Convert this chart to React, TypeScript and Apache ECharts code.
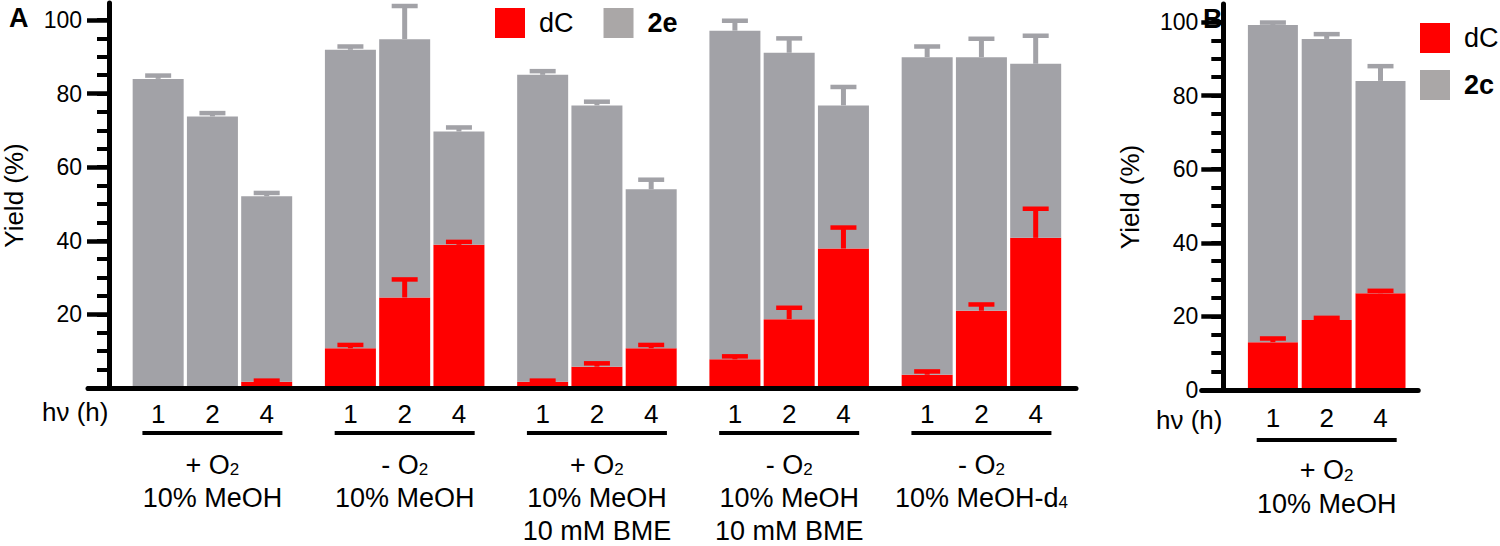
import React, { useEffect, useRef } from 'react';
import * as echarts from 'echarts';

// ---------- data ----------
const hours = ['1', '2', '4'];

// Panel A: condition groups
const groupsA = ['g1', 'g2', 'g3', 'g4', 'g5'];
const oxygenA = ['+ O', '- O', '+ O', '- O', '- O'];
const solventA = ['10% MeOH', '10% MeOH', '10% MeOH', '10% MeOH', '10% MeOH-d'];
const solventSubA = ['', '', '', '', '4'];
const additiveA = ['', '', '10 mM BME', '10 mM BME', ''];

// dC yield (%) per irradiation time, across groups
const dcA_1h = [0, 10.8, 1.7, 7.8, 3.6];
const dcA_2h = [0, 24.6, 5.8, 18.7, 21.0];
const dcA_4h = [1.7, 38.9, 10.8, 37.9, 40.8];
// 2e yield (%) (stacked on dC)
const e2A_1h = [84.0, 81.1, 83.4, 89.3, 86.3];
const e2A_2h = [73.8, 70.2, 71.0, 72.4, 68.9];
const e2A_4h = [50.4, 30.8, 43.2, 38.9, 47.3];
// error bars (upper)
const dcErrA_1h = [0, 0.9, 0.3, 0.8, 0.9];
const dcErrA_2h = [0, 4.9, 0.9, 3.1, 1.7];
const dcErrA_4h = [0.3, 0.8, 0.9, 5.7, 7.9];
const e2ErrA_1h = [0.9, 0.9, 1.0, 2.7, 2.9];
const e2ErrA_2h = [0.9, 9.0, 1.0, 3.9, 5.0];
const e2ErrA_4h = [0.9, 1.1, 2.6, 5.0, 7.6];

// Panel B (single group), values per irradiation time 1, 2, 4 h
const groupsB = ['g1'];
const oxygenB = ['+ O'];
const solventB = ['10% MeOH'];
const dcB = [13.0, 19.0, 26.3];
const c2B = [86.2, 76.4, 57.7];
const dcErrB = [1.0, 0.6, 0.65];
const c2ErrB = [0.65, 1.3, 4.0];

// axis ticks
const yMajorTicks = [0, 20, 40, 60, 80, 100];
const yLabelsA = [20, 40, 60, 80, 100];
const yLabelsB = [0, 20, 40, 60, 80, 100];
const yMinorTicks = [0, 5, 10, 15, 20, 25, 30, 35, 40, 45, 50, 55, 60, 65, 70, 75, 80, 85, 90, 95, 100];

// ---------- styles ----------
const FONT = "'Liberation Sans', Arial, Helvetica, sans-serif";
const RED = '#ff0000';
const GRAY = '#a2a2a7';
const LEGEND_GRAY = '#aaa7a7';
const STEM = 5;
const CAP_W = 26;
const CAP_T = 4.5;

const BAR_W_A = 51;
const BAR_GAP_A = 0.064;
const PITCH_A = BAR_W_A * (1 + BAR_GAP_A);
const BAR_W_B = 50;
const BAR_GAP_B = 0.076;
const PITCH_B = BAR_W_B * (1 + BAR_GAP_B);

const MAX_A = 385 / 3.68;
const MAX_B = 386 / 3.68;

const buildLabel = (oxy: string, solvent: string, solSub: string, additive: string) => {
  let s = hours.map((h) => `{n|${h}}`).join('') + '\n{ul|}\n{sp|}\n';
  s += `{g|${oxy}}{sub|2}\n{g|${solvent}}`;
  if (solSub) s += `{sub|${solSub}}`;
  if (additive) s += `\n{g|${additive}}`;
  return s;
};

const richFor = (pitch: number, ulLH: number, spLH: number, gLH: number) => ({
  n: { width: pitch, align: 'center', fontSize: 26, lineHeight: 30, color: '#000', fontFamily: FONT },
  ul: { width: 140, height: 4, lineHeight: ulLH, backgroundColor: '#000' },
  sp: { lineHeight: spLH, height: spLH, fontSize: 10 },
  g: { fontSize: 27, lineHeight: gLH, color: '#000', fontFamily: FONT },
  sub: { fontSize: 17, lineHeight: gLH, padding: [10, 0, 0, 0], color: '#000', fontFamily: FONT },
});

const makeErrRender = (pitch: number, color: string) => (_params: any, api: any) => {
  const g = api.value(0);
  const top = api.value(1);
  const err = api.value(2);
  const h = api.value(3);
  if (!(err > 0)) return null;
  const p0 = api.coord([g, top]);
  const p1 = api.coord([g, top + err]);
  const cx = p0[0] + (h - 1) * pitch;
  return {
    type: 'group',
    children: [
      { type: 'rect', shape: { x: cx - STEM / 2, y: p1[1], width: STEM, height: p0[1] - p1[1] }, style: { fill: color } },
      { type: 'rect', shape: { x: cx - CAP_W / 2, y: p1[1] - CAP_T / 2, width: CAP_W, height: CAP_T }, style: { fill: color } },
    ],
  };
};

const yAxisPair = (gridIndex: number, max: number, offset: number, labels: number[], margin: number, nameGap: number) => [
  {
    gridIndex, type: 'value', position: 'left', offset, min: 0, max,
    axisLine: { show: true, lineStyle: { color: '#000', width: 5 } },
    axisTick: { show: true, length: 12, lineStyle: { color: '#000', width: 4 }, customValues: yMinorTicks },
    axisLabel: { show: false },
    splitLine: { show: false },
    name: 'Yield (%)', nameLocation: 'middle', nameGap, nameRotate: 90, nameMoveOverlap: false,
    nameTextStyle: { fontSize: 26, color: '#000', fontFamily: FONT },
  },
  {
    gridIndex, type: 'value', position: 'left', offset, min: 0, max,
    axisLine: { show: false },
    axisTick: { show: true, length: 22, lineStyle: { color: '#000', width: 4.5 }, customValues: yMajorTicks },
    axisLabel: { show: true, customValues: labels, margin, fontSize: 23, color: '#000', fontFamily: FONT },
    splitLine: { show: false },
  },
];

const lineXAxis = (gridIndex: number) => ({
  gridIndex, type: 'value', min: 0, max: 1, position: 'bottom', z: 10,
  axisLine: { show: true, onZero: false, lineStyle: { color: '#000', width: 5 } },
  axisTick: { show: false }, axisLabel: { show: false }, splitLine: { show: false },
});

const textEl = (x: number, y: number, text: string, size: number, bold: boolean, vAlign: string) => ({
  type: 'text', x, y, z: 20,
  style: {
    text, fontSize: size, fontWeight: bold ? 'bold' : 'normal', fontFamily: FONT,
    fill: '#000', align: 'left', verticalAlign: vAlign,
  },
});

export default function App() {
  const ref = useRef<HTMLDivElement>(null);

  useEffect(() => {
    if (!ref.current) return;
    const chart = echarts.init(ref.current, undefined, { renderer: 'svg' });

    const dcA = [dcA_1h, dcA_2h, dcA_4h];
    const e2A = [e2A_1h, e2A_2h, e2A_4h];
    const dcErrA = [dcErrA_1h, dcErrA_2h, dcErrA_4h];
    const e2ErrA = [e2ErrA_1h, e2ErrA_2h, e2ErrA_4h];

    const series: any[] = [];
    hours.forEach((_h, hi) => {
      series.push({
        type: 'bar', name: 'dC', xAxisIndex: 0, yAxisIndex: 0, stack: 'A' + hi,
        data: dcA[hi], barWidth: BAR_W_A, barGap: `${BAR_GAP_A * 100}%`, itemStyle: { color: RED },
      });
      series.push({
        type: 'bar', name: '2e', xAxisIndex: 0, yAxisIndex: 0, stack: 'A' + hi,
        data: e2A[hi], barWidth: BAR_W_A, barGap: `${BAR_GAP_A * 100}%`, itemStyle: { color: GRAY },
      });
    });
    hours.forEach((_h, hi) => {
      series.push({
        type: 'bar', name: 'dC', xAxisIndex: 2, yAxisIndex: 3, stack: 'B' + hi,
        data: [dcB[hi]], barWidth: BAR_W_B, barGap: `${BAR_GAP_B * 100}%`, itemStyle: { color: RED },
      });
      series.push({
        type: 'bar', name: '2c', xAxisIndex: 2, yAxisIndex: 3, stack: 'B' + hi,
        data: [c2B[hi]], barWidth: BAR_W_B, barGap: `${BAR_GAP_B * 100}%`, itemStyle: { color: GRAY },
      });
    });

    const errRedA: number[][] = [];
    const errGrayA: number[][] = [];
    groupsA.forEach((_g, gi) => {
      hours.forEach((_h, hi) => {
        errRedA.push([gi, dcA[hi][gi], dcErrA[hi][gi], hi]);
        errGrayA.push([gi, dcA[hi][gi] + e2A[hi][gi], e2ErrA[hi][gi], hi]);
      });
    });
    const errRedB = hours.map((_h, hi) => [0, dcB[hi], dcErrB[hi], hi]);
    const errGrayB = hours.map((_h, hi) => [0, dcB[hi] + c2B[hi], c2ErrB[hi], hi]);

    series.push(
      { type: 'custom', name: 'errGrayA', xAxisIndex: 0, yAxisIndex: 0, z: 5, silent: true, encode: { x: 0, y: 1 }, data: errGrayA, renderItem: makeErrRender(PITCH_A, GRAY) },
      { type: 'custom', name: 'errRedA', xAxisIndex: 0, yAxisIndex: 0, z: 5, silent: true, encode: { x: 0, y: 1 }, data: errRedA, renderItem: makeErrRender(PITCH_A, RED) },
      { type: 'custom', name: 'errGrayB', xAxisIndex: 2, yAxisIndex: 3, z: 5, silent: true, encode: { x: 0, y: 1 }, data: errGrayB, renderItem: makeErrRender(PITCH_B, GRAY) },
      { type: 'custom', name: 'errRedB', xAxisIndex: 2, yAxisIndex: 3, z: 5, silent: true, encode: { x: 0, y: 1 }, data: errRedB, renderItem: makeErrRender(PITCH_B, RED) },
    );

    const legendCommon = {
      itemWidth: 30, itemHeight: 30, icon: 'rect', padding: 0, selectedMode: false,
      textStyle: { fontSize: 27, color: '#000', fontFamily: FONT, padding: [0, 0, 0, 9] },
    };

    const option: any = {
      animation: false,
      backgroundColor: '#fff',
      textStyle: { fontFamily: FONT },
      grid: [
        { left: 116.3, top: 3, width: 961.25, height: 385, outerBoundsMode: 'none', containLabel: false },
        { left: 88, top: 3, width: 988, height: 385, outerBoundsMode: 'none', containLabel: false },
        { left: 1230.7, top: 4, width: 192, height: 386, outerBoundsMode: 'none', containLabel: false },
        { left: 1201.7, top: 4, width: 216.5, height: 386, outerBoundsMode: 'none', containLabel: false },
      ],
      legend: [
        {
          ...legendCommon, left: 495, top: 8, orient: 'horizontal', itemGap: 30,
          data: [{ name: 'dC' }, { name: '2e', textStyle: { fontWeight: 'bold' }, itemStyle: { color: LEGEND_GRAY } }],
        },
        {
          ...legendCommon, left: 1420, top: 23, orient: 'vertical', itemGap: 17,
          data: [{ name: 'dC' }, { name: '2c', textStyle: { fontWeight: 'bold' }, itemStyle: { color: LEGEND_GRAY } }],
        },
      ],
      xAxis: [
        {
          gridIndex: 0, type: 'category', data: groupsA, position: 'bottom',
          axisLine: { show: false }, axisTick: { show: false }, splitLine: { show: false },
          axisLabel: {
            interval: 0, margin: 11, color: '#000', fontFamily: FONT,
            formatter: (_v: string, i: number) => buildLabel(oxygenA[i], solventA[i], solventSubA[i], additiveA[i]),
            rich: richFor(PITCH_A, 8, 11, 33),
          },
        },
        lineXAxis(1),
        {
          gridIndex: 2, type: 'category', data: groupsB, position: 'bottom',
          axisLine: { show: false }, axisTick: { show: false }, splitLine: { show: false },
          axisLabel: {
            interval: 0, margin: 13, color: '#000', fontFamily: FONT,
            formatter: (_v: string, i: number) => buildLabel(oxygenB[i], solventB[i], '', ''),
            rich: richFor(PITCH_B, 14, 6, 34),
          },
        },
        lineXAxis(3),
      ],
      yAxis: [
        ...yAxisPair(0, MAX_A, 7.3, yLabelsA, 27, 82),
        { gridIndex: 1, type: 'value', min: 0, max: 1, show: false },
        ...yAxisPair(2, MAX_B, 7.4, yLabelsB, 25, 80),
        { gridIndex: 3, type: 'value', min: 0, max: 1, show: false },
      ],
      graphic: [
        textEl(9, 4, 'A', 27, true, 'top'),
        textEl(1203, 5, 'B', 27, true, 'top'),
        textEl(42, 412, 'hν (h)', 26, false, 'middle'),
        textEl(1156, 420, 'hν (h)', 26, false, 'middle'),
      ],
      series,
    };

    chart.setOption(option);
    return () => chart.dispose();
  }, []);

  return <div ref={ref} style={{ position: 'absolute', left: 0, top: 0, width: 1500, height: 546 }} />;
}
